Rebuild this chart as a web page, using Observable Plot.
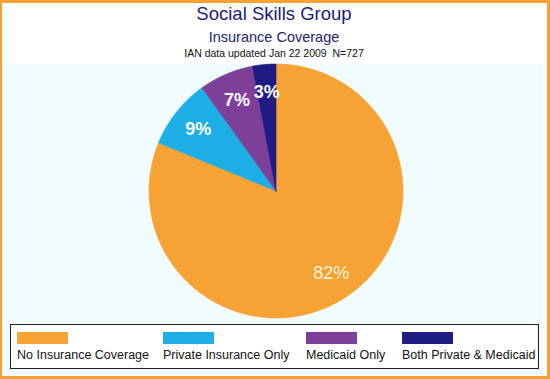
<!DOCTYPE html>
<html><head><meta charset="utf-8">
<script src="https://cdn.jsdelivr.net/npm/d3@7"></script>
<script src="https://cdn.jsdelivr.net/npm/@observablehq/plot@0.6"></script>
<style>
body{margin:0;background:#fff;}
#frame{position:relative;width:550px;height:379px;background:#F6A130;overflow:hidden;font-family:"Liberation Sans",Arial,sans-serif;}
#inner{position:absolute;left:2px;top:3px;width:545px;height:373px;background:#fff;}
.t{position:absolute;left:0;width:548px;text-align:center;line-height:1;white-space:pre;}
#title{top:4.8px;font-size:18.5px;color:#1B1B78;}
#sub{top:29.7px;font-size:14.5px;color:#22226E;}
#note{top:48.1px;font-size:10.5px;color:#111;}
#plotarea{position:absolute;left:5px;top:64px;width:538px;height:311px;background:#F0FBFE;}
#chart{position:absolute;left:0;top:0;}
#legend{position:absolute;left:10px;top:324px;width:527px;height:43px;border:1px solid #222;background:#fff;overflow:hidden;}
.sw{position:absolute;top:7px;width:51px;height:12px;}
.lt{position:absolute;top:24px;font-size:12.5px;line-height:1;color:#111;white-space:nowrap;}
</style></head>
<body>
<div id="frame">
  <div id="inner"></div>
  <div class="t" id="title">Social Skills Group</div>
  <div class="t" id="sub">Insurance Coverage</div>
  <div class="t" id="note">IAN data updated Jan 22 2009  N=727</div>
  <div id="plotarea"><div id="chart"></div></div>
  <div id="legend"></div>
</div>
<script>
const categories = ["No Insurance Coverage", "Private Insurance Only", "Medicaid Only", "Both Private & Medicaid"];
const percents = [82, 9, 7, 3];
const labels = ["82%", "9%", "7%", "3%"];
const colors = ["#F7A234", "#1DAEE5", "#7D3F98", "#1E1B82"];
const labelColors = ["#FFF4DC", "#FFFFFF", "#FFFFFF", "#FFFFFF"];
const labelWeights = ["normal", "bold", "bold", "bold"];
const legendX = [6, 152, 295, 391];

const arcs = d3.pie().sort(null).value(d => d)(percents);
const poly = [];
arcs.forEach((a, i) => {
  poly.push({k: i, x: 0, y: 0});
  const n = Math.max(2, Math.ceil((a.endAngle - a.startAngle) / (Math.PI / 360)));
  for (let j = 0; j <= n; j++) {
    const t = a.startAngle + (a.endAngle - a.startAngle) * j / n;
    poly.push({k: i, x: Math.sin(t), y: Math.cos(t)});
  }
  poly.push({k: i, x: 0, y: 0});
});
const labelData = arcs.map((a, i) => {
  const m = (a.startAngle + a.endAngle) / 2;
  return {k: i, label: labels[i], x: 0.78 * Math.sin(m), y: 0.78 * Math.cos(m)};
});

const cx = 270.5, cy = 126.5, R = 127;
const textMark = (w) => Plot.text(labelData.filter(d => labelWeights[d.k] === w), {
  x: "x", y: "y", text: "label", fill: d => labelColors[d.k], fontSize: 18, fontWeight: w,
  fontFamily: "Liberation Sans, Arial, sans-serif"
});
const chart = Plot.plot({
  width: 538, height: 258, margin: 0,
  style: {background: "transparent", overflow: "visible"},
  x: {domain: [-1, 1], range: [cx - R, cx + R], axis: null},
  y: {domain: [-1, 1], range: [cy + R, cy - R], axis: null},
  color: {type: "ordinal", domain: [0, 1, 2, 3], range: colors},
  marks: [
    Plot.line(poly, {x: "x", y: "y", z: "k", fill: "k", stroke: "k", strokeWidth: 0.6, curve: "linear"}),
    textMark("normal"),
    textMark("bold")
  ]
});
document.getElementById("chart").appendChild(chart);

const lg = document.getElementById("legend");
categories.forEach((c, i) => {
  const s = document.createElement("div");
  s.className = "sw"; s.style.left = legendX[i] + "px"; s.style.background = colors[i];
  lg.appendChild(s);
  const t = document.createElement("div");
  t.className = "lt"; t.style.left = legendX[i] + "px"; t.textContent = c;
  lg.appendChild(t);
});
</script>
</body></html>
